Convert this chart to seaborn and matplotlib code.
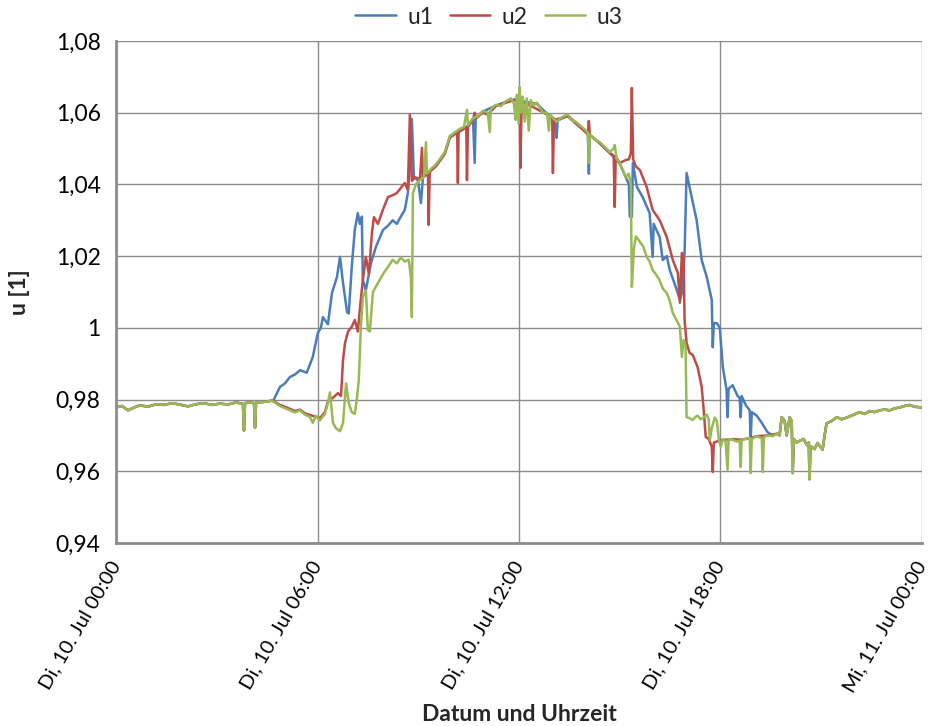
import matplotlib
matplotlib.use("Agg")
import matplotlib.pyplot as plt
import seaborn as sns
import numpy as np

# ---- data: voltage ratios u1, u2, u3 over one day (time in hours) ----
# quiet night before sunrise, identical on all three phases
night_t = [0.00, 0.18, 0.36, 0.54, 0.71, 0.95, 1.19, 1.43, 1.67, 1.90, 2.14, 2.38,
           2.62, 2.86, 3.10, 3.33, 3.57, 3.78, 3.81, 3.84, 3.99, 4.11, 4.14, 4.17,
           4.35, 4.52, 4.64]
night_u = [0.9778, 0.9782, 0.9770, 0.9778, 0.9784, 0.9780, 0.9787, 0.9785, 0.9790,
           0.9786, 0.9781, 0.9787, 0.9790, 0.9785, 0.9789, 0.9786, 0.9792, 0.9788,
           0.9713, 0.9790, 0.9792, 0.9790, 0.9722, 0.9792, 0.9793, 0.9795, 0.9797]

# evening / night after sunset, identical on all three phases
late_t = [19.76, 19.82, 19.91, 19.97, 20.06, 20.12, 20.15, 20.18, 20.27, 20.36,
          20.48, 20.57, 20.63, 20.65, 20.68, 20.80, 20.89, 20.98, 21.04, 21.10,
          21.16, 21.31, 21.46, 21.61, 21.76, 21.90, 22.02, 22.14, 22.29, 22.44,
          22.59, 22.74, 22.89, 23.04, 23.18, 23.33, 23.48, 23.63, 23.78, 24.00]
late_u = [0.9700, 0.9751, 0.9740, 0.9700, 0.9751, 0.9740, 0.9595, 0.9690, 0.9680,
          0.9685, 0.9690, 0.9673, 0.9680, 0.9578, 0.9670, 0.9662, 0.9679, 0.9668,
          0.9660, 0.9700, 0.9734, 0.9740, 0.9751, 0.9745, 0.9750, 0.9755, 0.9760,
          0.9765, 0.9760, 0.9768, 0.9765, 0.9770, 0.9772, 0.9770, 0.9775, 0.9778,
          0.9782, 0.9785, 0.9780, 0.9778]

# phase 1 during daytime
u1_day_t = [4.70, 4.88, 5.03, 5.18, 5.33, 5.48, 5.68, 5.86, 6.01, 6.10, 6.16, 6.31,
            6.43, 6.58, 6.67, 6.76, 6.88, 6.93, 7.02, 7.11, 7.20, 7.26, 7.32, 7.35,
            7.44, 7.59, 7.74, 7.95, 8.10, 8.24, 8.36, 8.48, 8.60, 8.69, 8.75, 8.81,
            8.87, 8.99, 9.08, 9.14, 9.26, 9.52, 9.79, 9.94, 10.24, 10.48, 10.63,
            10.68, 10.71, 10.92, 11.31, 11.61, 11.90, 12.20, 12.53, 12.83, 13.10,
            13.12, 13.15, 13.45, 13.81, 14.05, 14.08, 14.11, 14.40, 14.70, 15.00,
            15.18, 15.27, 15.30, 15.36, 15.39, 15.51, 15.68, 15.89, 15.98, 16.01,
            16.19, 16.28, 16.40, 16.49, 16.70, 16.79, 16.85, 16.93, 16.99, 17.14,
            17.29, 17.44, 17.59, 17.74, 17.77, 17.80, 17.89, 17.98, 18.07, 18.18,
            18.21, 18.24, 18.36, 18.51, 18.57, 18.60, 18.63, 18.75, 18.87, 18.90,
            18.93, 19.08, 19.23, 19.40, 19.55, 19.70]
u1_day_u = [0.9800, 0.9835, 0.9845, 0.9863, 0.9870, 0.9882, 0.9875, 0.9919, 0.9986,
            1.0000, 1.0030, 1.0010, 1.0097, 1.0142, 1.0198, 1.0125, 1.0044, 1.0040,
            1.0170, 1.0273, 1.0320, 1.0290, 1.0310, 1.0133, 1.0105, 1.0180, 1.0226,
            1.0273, 1.0285, 1.0300, 1.0290, 1.0310, 1.0329, 1.0376, 1.0450, 1.0582,
            1.0420, 1.0412, 1.0348, 1.0420, 1.0428, 1.0452, 1.0488, 1.0532, 1.0553,
            1.0563, 1.0583, 1.0460, 1.0583, 1.0603, 1.0620, 1.0630, 1.0638, 1.0630,
            1.0625, 1.0598, 1.0580, 1.0530, 1.0578, 1.0592, 1.0563, 1.0543, 1.0430,
            1.0538, 1.0515, 1.0488, 1.0458, 1.0420, 1.0400, 1.0310, 1.0310, 1.0460,
            1.0393, 1.0365, 1.0320, 1.0198, 1.0290, 1.0253, 1.0189, 1.0200, 1.0161,
            1.0105, 1.0078, 1.0097, 1.0209, 1.0432, 1.0365, 1.0300, 1.0189, 1.0142,
            1.0078, 0.9946, 1.0013, 1.0013, 1.0000, 0.9890, 0.9827, 0.9751, 0.9830,
            0.9840, 0.9810, 0.9805, 0.9751, 0.9810, 0.9785, 0.9770, 0.9688, 0.9765,
            0.9755, 0.9735, 0.9709, 0.9700, 0.9705]

# phase 2 during daytime
u2_day_t = [4.76, 4.88, 5.03, 5.18, 5.33, 5.48, 5.62, 5.77, 5.95, 6.07, 6.22, 6.31,
            6.46, 6.61, 6.70, 6.76, 6.82, 6.91, 7.02, 7.11, 7.20, 7.29, 7.35, 7.44,
            7.53, 7.62, 7.68, 7.80, 7.95, 8.10, 8.24, 8.36, 8.48, 8.60, 8.69, 8.75,
            8.81, 8.90, 9.05, 9.11, 9.14, 9.29, 9.31, 9.34, 9.52, 9.64, 9.79, 9.94,
            10.09, 10.16, 10.18, 10.20, 10.36, 10.43, 10.45, 10.48, 10.63, 10.68,
            10.72, 10.92, 11.07, 11.31, 11.61, 11.85, 12.02, 12.04, 12.08, 12.44,
            12.83, 12.99, 13.01, 13.04, 13.45, 13.81, 14.05, 14.08, 14.11, 14.40,
            14.70, 14.82, 14.85, 14.88, 15.00, 15.18, 15.27, 15.33, 15.36, 15.40,
            15.48, 15.60, 15.80, 15.98, 16.19, 16.40, 16.58, 16.73, 16.79, 16.85,
            16.90, 16.93, 16.99, 17.08, 17.17, 17.32, 17.44, 17.50, 17.56, 17.65,
            17.74, 17.77, 17.80, 17.95, 18.15, 18.36, 18.57, 18.87, 19.08, 19.40,
            19.70]
u2_day_u = [0.9792, 0.9785, 0.9780, 0.9774, 0.9768, 0.9772, 0.9762, 0.9757, 0.9752,
            0.9748, 0.9765, 0.9795, 0.9805, 0.9818, 0.9810, 0.9911, 0.9958, 0.9990,
            1.0003, 1.0022, 0.9990, 1.0080, 1.0133, 1.0198, 1.0150, 1.0264, 1.0309,
            1.0290, 1.0330, 1.0365, 1.0370, 1.0376, 1.0390, 1.0404, 1.0385, 1.0594,
            1.0410, 1.0420, 1.0415, 1.0502, 1.0420, 1.0430, 1.0287, 1.0435, 1.0450,
            1.0465, 1.0485, 1.0530, 1.0540, 1.0545, 1.0404, 1.0546, 1.0555, 1.0558,
            1.0412, 1.0560, 1.0580, 1.0600, 1.0585, 1.0600, 1.0595, 1.0618, 1.0628,
            1.0635, 1.0630, 1.0446, 1.0630, 1.0615, 1.0595, 1.0582, 1.0432, 1.0580,
            1.0590, 1.0560, 1.0540, 1.0577, 1.0538, 1.0515, 1.0488, 1.0480, 1.0337,
            1.0478, 1.0460, 1.0468, 1.0470, 1.0487, 1.0669, 1.0470, 1.0450, 1.0440,
            1.0393, 1.0329, 1.0300, 1.0253, 1.0189, 1.0153, 1.0070, 1.0209, 1.0200,
            1.0022, 0.9958, 0.9930, 0.9925, 0.9890, 0.9835, 0.9770, 0.9696, 0.9690,
            0.9668, 0.9598, 0.9680, 0.9685, 0.9688, 0.9690, 0.9688, 0.9692, 0.9698,
            0.9700, 0.9705]

# phase 3 during daytime
u3_day_t = [4.76, 4.88, 5.03, 5.18, 5.33, 5.48, 5.62, 5.77, 5.86, 5.95, 6.07, 6.22,
            6.31, 6.37, 6.46, 6.55, 6.67, 6.76, 6.85, 6.93, 7.02, 7.11, 7.17, 7.23,
            7.29, 7.35, 7.44, 7.50, 7.56, 7.65, 7.80, 7.95, 8.10, 8.24, 8.36, 8.48,
            8.60, 8.72, 8.78, 8.81, 8.84, 8.93, 9.05, 9.17, 9.23, 9.26, 9.40, 9.52,
            9.64, 9.79, 9.94, 10.09, 10.24, 10.36, 10.45, 10.48, 10.63, 10.77, 10.92,
            11.07, 11.13, 11.16, 11.31, 11.46, 11.61, 11.76, 11.85, 11.90, 11.93,
            11.99, 12.02, 12.05, 12.11, 12.17, 12.23, 12.29, 12.35, 12.44, 12.53,
            12.62, 12.71, 12.83, 12.89, 12.92, 13.01, 13.13, 13.21, 13.33, 13.45,
            13.57, 13.69, 13.81, 13.93, 14.05, 14.08, 14.11, 14.26, 14.40, 14.55,
            14.70, 14.82, 14.85, 14.91, 15.00, 15.09, 15.18, 15.27, 15.33, 15.36,
            15.42, 15.48, 15.60, 15.71, 15.80, 15.89, 15.98, 16.07, 16.19, 16.28,
            16.40, 16.49, 16.58, 16.70, 16.79, 16.85, 16.90, 16.96, 16.99, 17.08,
            17.17, 17.26, 17.32, 17.41, 17.50, 17.59, 17.65, 17.68, 17.74, 17.83,
            17.89, 17.95, 18.01, 18.07, 18.15, 18.21, 18.24, 18.36, 18.48, 18.57,
            18.60, 18.63, 18.75, 18.87, 18.90, 18.93, 19.08, 19.23, 19.26, 19.29,
            19.40, 19.55, 19.70]
u3_day_u = [0.9790, 0.9782, 0.9776, 0.9770, 0.9764, 0.9770, 0.9758, 0.9752, 0.9735,
            0.9755, 0.9742, 0.9760, 0.9790, 0.9820, 0.9735, 0.9720, 0.9712, 0.9735,
            0.9845, 0.9790, 0.9765, 0.9760, 0.9800, 0.9855, 1.0000, 1.0086, 1.0105,
            0.9994, 0.9990, 1.0100, 1.0125, 1.0150, 1.0170, 1.0190, 1.0180, 1.0196,
            1.0185, 1.0190, 1.0140, 1.0030, 1.0376, 1.0400, 1.0412, 1.0420, 1.0518,
            1.0430, 1.0445, 1.0455, 1.0470, 1.0490, 1.0535, 1.0545, 1.0555, 1.0560,
            1.0608, 1.0565, 1.0585, 1.0590, 1.0605, 1.0600, 1.0546, 1.0610, 1.0622,
            1.0618, 1.0632, 1.0640, 1.0625, 1.0580, 1.0650, 1.0570, 1.0672, 1.0600,
            1.0645, 1.0575, 1.0640, 1.0550, 1.0635, 1.0620, 1.0628, 1.0615, 1.0600,
            1.0600, 1.0550, 1.0595, 1.0585, 1.0575, 1.0583, 1.0590, 1.0595, 1.0580,
            1.0575, 1.0565, 1.0555, 1.0545, 1.0460, 1.0540, 1.0525, 1.0518, 1.0505,
            1.0490, 1.0500, 1.0510, 1.0470, 1.0460, 1.0440, 1.0420, 1.0430, 1.0400,
            1.0114, 1.0220, 1.0255, 1.0240, 1.0225, 1.0198, 1.0185, 1.0161, 1.0150,
            1.0133, 1.0110, 1.0097, 1.0075, 1.0041, 1.0020, 1.0003, 0.9919, 0.9966,
            0.9950, 0.9751, 0.9748, 0.9743, 0.9752, 0.9755, 0.9745, 0.9750, 0.9758,
            0.9745, 0.9687, 0.9720, 0.9750, 0.9740, 0.9690, 0.9668, 0.9690, 0.9685,
            0.9604, 0.9690, 0.9688, 0.9683, 0.9685, 0.9612, 0.9688, 0.9690, 0.9693,
            0.9595, 0.9690, 0.9698, 0.9692, 0.9598, 0.9695, 0.9700, 0.9698, 0.9705]

series_names = ["u1", "u2", "u3"]
series_colors = ["#4A7EBB", "#BE4B48", "#98B954"]

y_ticks = [0.94, 0.96, 0.98, 1.00, 1.02, 1.04, 1.06, 1.08]
y_tick_labels = ["0,94", "0,96", "0,98", "1", "1,02", "1,04", "1,06", "1,08"]
x_ticks = [0, 6, 12, 18, 24]
x_tick_labels = ["Di, 10. Jul 00:00", "Di, 10. Jul 06:00", "Di, 10. Jul 12:00",
                 "Di, 10. Jul 18:00", "Mi, 11. Jul 00:00"]

# ---- figure ----
sns.set_style("white")
plt.rcParams["font.family"] = ["Lato", "DejaVu Sans"]

fig = plt.figure(figsize=(9.31, 7.26), dpi=100)
ax = fig.add_axes([116 / 931, 1 - 543 / 726, (922 - 116) / 931, (543 - 41) / 726])

day_parts = [(u1_day_t, u1_day_u), (u2_day_t, u2_day_u), (u3_day_t, u3_day_u)]
for name, color, (dt, du) in zip(series_names, series_colors, day_parts):
    t = np.array(night_t + dt + late_t)
    u = np.array(night_u + du + late_u)
    sns.lineplot(x=t, y=u, ax=ax, color=color, linewidth=1.8, label=name,
                 estimator=None, sort=False)

grid_col = "#8C8C8C"
ax.set_xlim(0, 24)
ax.set_ylim(0.94, 1.08)
ax.set_yticks(y_ticks)
ax.set_yticklabels(y_tick_labels)
ax.set_xticks(x_ticks)
ax.set_xticklabels(x_tick_labels, rotation=60, ha="right", va="center",
                   rotation_mode="anchor")
ax.grid(True, color=grid_col, linewidth=1.0)
ax.set_axisbelow(True)

for side in ["top", "right"]:
    ax.spines[side].set_visible(False)
for side in ["left", "bottom"]:
    ax.spines[side].set_color(grid_col)
    ax.spines[side].set_linewidth(2.0)

ax.tick_params(axis="both", which="major", direction="out", length=5, width=1.5,
               color=grid_col, labelcolor="black")
ax.tick_params(axis="y", labelsize=16.5, pad=6)
ax.tick_params(axis="x", labelsize=14.5, pad=9)

ax.set_ylabel("u [1]", fontsize=16.5, fontweight="bold")
ax.yaxis.set_label_coords(-0.107, 0.5)
ax.set_xlabel("Datum und Uhrzeit", fontsize=16.5, fontweight="bold")
ax.xaxis.set_label_coords(0.5, -0.32)

ax.legend(loc="center", bbox_to_anchor=(489 / 931, 1 - 17 / 726),
          bbox_transform=fig.transFigure, ncol=3, frameon=False, fontsize=16.5,
          handlelength=1.75, handletextpad=0.5, columnspacing=0.75)

fig.savefig("out.png", dpi=100)
